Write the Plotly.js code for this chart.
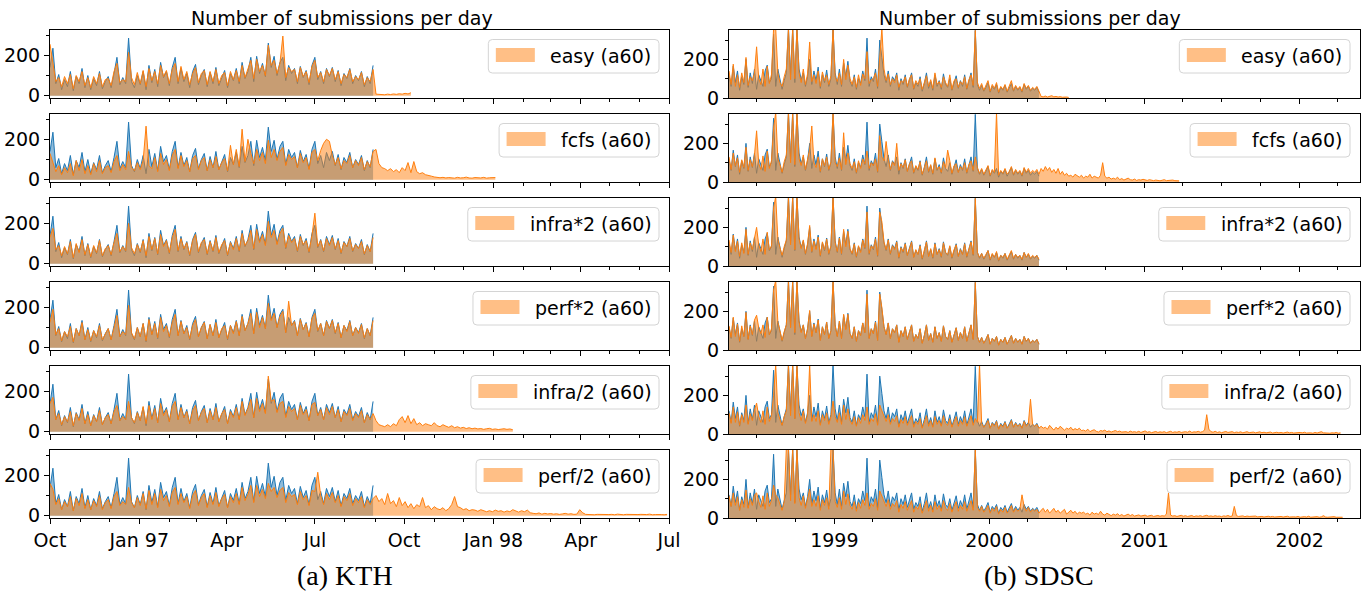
<!DOCTYPE html>
<html><head><meta charset="utf-8">
<script src="https://cdn.plot.ly/plotly-3.0.1.min.js"></script>
<style>html,body{margin:0;padding:0;background:#fff}#chart{width:1368px;height:595px}</style>
</head><body><div id="chart"></div>
<script>
// ---------------- data ----------------
const kthStart = '1996-10-01', kthStep = 3;     // days between samples
const sdscStart = '1998-04-28', sdscStep = 5;

const kthBlue = [140,235,60,105,30,80, 45,120,25,95,60,135,40, 100,30,85,50,120,35,70,
 95,40,110,190,55,90,60,285,70, 40,100,55,120,30,150,65, 130,45,165,90,120,50,140,
 190,60,135,70,110,40,120, 155,55,100,130,45,115,60, 140,50,90,125,40,110,75,
 135,60,165,85,120,190,70, 195,110,160,95,260,140,195, 100,165,190,75,150,110,135,
 60,145,90,125,55,150,190, 80,120,60,135,95,140,70, 125,50,110,85,135,60,100, 75,120,45,95,60,150];

const kthEasy = [255,150,70,90,45,95, 60,105,35,100,70,120,50, 90,40,95,60,110,45,80,
 85,50,120,160,65,80,70,215,90, 55,115,60,125,45,135,75, 120,60,150,95,125,60,130,
 160,70,145,80,120,55,110, 140,65,110,125,55,120,70, 130,60,100,115,50,120,80,
 125,70,150,90,130,175,85, 180,120,150,100,250,150,175, 110,160,295,90,140,120,130,
 70,140,95,120,65,145,175, 90,115,70,130,100,135,80, 120,60,105,90,130,70,95, 80,115,55,90,70,130,
 8,6,7,5,8,6,9,7,10,8,12,9,15];

const kthFcfs = [130,90,40,70,25,60, 35,80,20,95,45,100,30, 70,25,80,40,95,30,60,
 70,35,90,120,45,75,50,140,60, 45,85,50,95,265,70,55, 110,40,130,75,100,45,120,
 150,55,120,65,95,40,105, 120,50,95,110,45,100,60, 115,50,85,105,45,170,75,
 150,65,250,90,200,130,80, 150,95,135,80,195,110,150, 95,140,160,70,125,100,115,
 60,130,85,110,50,135,150, 95,145,180,200,190,120,75, 110,55,95,80,120,60,95, 70,110,50,90,65,140,
 150,80,60,55,45,55,40,50,35,60,45,85,35,90,40,30,35,25,20,18,14,12,10,12,9,11,10,8,12,9,10,13,9,8,11,10,9,12,8,10,9,11];

const kthInfraX2 = [130,175,70,90,40,85, 50,110,30,100,55,120,45, 95,35,90,55,115,40,75,
 90,45,105,150,60,85,65,200,80, 50,95,60,115,40,135,70, 125,50,145,85,115,55,130,
 170,65,125,75,105,45,115, 145,60,105,120,50,110,65, 130,55,95,115,45,105,70,
 125,65,150,90,115,165,75, 170,105,145,90,210,130,165, 95,150,175,80,140,105,125,
 65,135,95,115,60,140,250, 85,115,65,125,90,130,75, 115,55,105,85,125,65,95, 75,110,50,90,60,130];

const kthPerfX2 = [125,190,65,95,35,80, 55,105,30,95,60,125,40, 90,35,85,55,110,40,70,
 95,40,100,160,55,80,65,210,75, 45,100,55,120,35,140,65, 120,50,150,80,110,55,125,
 165,60,130,70,100,45,110, 140,55,100,125,45,115,60, 125,50,95,110,45,110,70,
 130,60,155,85,120,170,70, 175,100,150,95,220,135,170, 100,155,180,75,230,110,130,
 60,140,90,120,55,145,170, 85,120,60,130,95,135,75, 120,50,110,80,130,60,100, 70,115,50,95,60,135];

const kthInfraD2 = [140,170,60,90,35,75, 50,100,30,90,55,115,40, 85,30,80,50,105,35,70,
 85,40,100,130,55,75,60,150,70, 45,95,55,125,40,130,60, 115,45,140,80,110,50,125,
 150,60,120,70,100,40,105, 130,55,95,115,45,105,60, 120,50,90,110,40,100,70,
 120,60,150,80,115,160,70, 165,100,140,90,275,150,160, 95,140,150,70,125,100,115,
 60,130,85,110,55,135,145, 80,110,60,120,85,125,70, 110,50,100,80,115,55,90, 70,105,45,85,60,90,
 55,35,30,25,35,25,40,30,60,75,45,80,40,65,35,45,30,40,35,30,45,30,25,35,28,22,30,20,25,18,22,16,
 20,15,18,14,16,12,15,17,12,14,11,13,15,12,14,10];

const kthPerfD2 = [160,130,55,85,30,70, 45,95,25,85,50,110,35, 80,30,75,45,100,30,65,
 80,35,95,120,50,70,55,140,65, 40,90,50,110,35,125,55, 110,40,130,75,100,45,115,
 140,55,110,65,95,35,100, 125,50,90,110,40,100,55, 115,45,85,105,40,95,65,
 110,55,140,75,105,150,65, 150,95,130,85,160,120,140, 90,125,140,65,115,95,105,
 55,120,80,100,50,125,120, 215,100,55,110,80,115,65, 100,45,95,75,110,50,85, 65,95,40,80,55,85,
 100,70,85,55,110,60,75,45,90, 50,70,40,60,35,55,45,90,40,50,30,45,35,
 30,40,25,35,55,95,45,40,30,35,25,30,28,22,30,25,20, 25,20,28,22,25,18,24,20,30,22,18,25,20,28,15,
 12,10,14,8,12,9,11,8,10,7,9,12,8,10,7, 8,30,15,7,6,8,5,7,6,8,5,
 6,7,5,8,6,5,7,6,8,5,6,7,5,6,8,5,6,7,6,5,7];

const sdscBlue = [120,60,165,80,140,40,110,70,200,55, 130,75,150,45,120,90,60,140,170,80,
 100,330,60,150,100,45,90,130,360,120, 360,80,360,150,95,130,60,110,200,70,
 140,90,160,50,120,80,145,60,100,360, 130,70,150,60,180,110,190,85,60,120,
 45,100,75,140,90,310,60,110,85,150, 50,300,210,120,80,140,60,110,90,130,
 40,100,70,120,55,90,130,45,80,60, 110,35,75,130,50,85,40,120,60,90,
 45,125,70,55,100,40,80,115,50,90, 60,120,45,85,130,55,350,70,40,65,
 35,55,80,30,60,45,70,25,55,40, 65,30,50,75,35,60,40,55,30,70, 45,60,35,50,40,55,30];

const sdscEasy = [140,70,175,60,120,55,130,80,210,65, 110,90,130,265,100,70,150,60,165,75,
 120,360,360,130,80,60,110,150,360,95, 360,100,360,130,80,150,70,125,290,85,
 120,75,140,60,135,90,120,70,115,360, 110,85,130,70,200,95,170,100,70,110,
 55,120,65,125,100,240,75,95,100,130, 60,210,360,150,90,125,70,100,80,120,
 55,90,80,110,60,100,120,50,90,70, 100,45,85,115,60,95,50,130,70,85,
 55,110,80,60,120,45,90,100,55,85, 70,110,50,95,120,65,350,80,50,75,
 40,65,90,35,70,50,80,30,60,45, 70,35,60,90,40,65,45,60,35,75, 50,65,40,55,45,60,35,
 8,6,10,5,7,12,6,8,5,7,4,6,5,3];

const sdscFcfs = [130,65,150,85,125,50,115,75,180,60, 115,80,140,265,95,65,135,55,160,70,
 110,280,360,120,90,50,105,140,360,100, 360,90,360,120,85,140,65,120,170,290,
 100,75,130,55,120,85,130,65,105,360, 100,80,125,65,255,90,150,95,70,105,
 50,110,70,120,95,160,70,100,85,120, 55,240,130,110,210,120,65,105,85,200,
 60,95,75,115,55,95,110,50,85,65, 105,40,80,110,55,90,45,125,65,80,
 50,105,75,165,110,45,85,95,50,80, 65,100,50,90,110,60,130,75,45,70,
 40,60,85,35,65,50,360,35,60,45, 70,40,55,80,40,65,45,60,35,75, 50,70,45,60,50,65,40,
 70,55,80,60,75,50,65,45,70,40,55,35,45,30,
 35,25,40,30,25,35,20,30,25,40,20,30,25,20,35, 100,30,20,25,15,
 20,15,25,12,18,10,15,20,12,10,15,8,12,10,14, 10,8,12,9,7,10,8,6,9,12,7,8,6,10,7,5,6];

const sdscInfraX2 = [135,70,160,75,130,50,120,65,190,60, 120,85,145,200,110,75,140,60,175,85,
 105,300,360,140,95,55,100,135,360,110, 360,85,360,140,90,135,65,115,210,75,
 130,85,150,55,125,85,140,65,105,360, 120,75,145,65,190,100,180,90,65,115,
 50,105,70,135,95,280,65,105,90,140, 55,280,230,125,85,135,65,105,85,125,
 45,95,75,115,55,95,125,45,85,60, 105,40,80,125,50,90,45,115,60,85,
 50,120,70,60,105,45,85,110,50,85, 60,115,50,90,125,60,350,70,45,65,
 40,60,80,35,65,45,75,30,55,45, 65,35,55,80,40,60,45,55,35,70, 45,65,40,55,45,55,35];

const sdscPerfX2 = [125,65,170,70,135,45,125,70,195,55, 125,80,155,180,115,85,130,65,170,80,
 110,310,360,145,100,50,95,130,360,115, 360,90,360,145,90,130,60,110,205,70,
 135,90,155,50,120,80,145,60,100,360, 125,70,150,60,185,105,185,85,60,120,
 45,100,75,140,90,290,60,110,85,145, 50,290,220,120,80,140,60,110,90,130,
 40,100,70,120,55,90,130,45,80,60, 110,35,75,130,50,85,40,120,60,90,
 45,125,70,55,100,40,80,115,50,90, 60,120,45,85,130,55,350,70,40,65,
 35,55,80,30,60,45,70,25,55,40, 65,30,50,75,35,60,40,55,30,70, 45,60,35,50,40,55,30];

const sdscInfraD2 = [110,55,140,60,115,45,100,60,150,50, 105,70,125,160,90,60,120,50,140,65,
 95,200,360,110,75,45,90,120,360,95, 360,80,360,110,70,120,55,100,360,65,
 100,65,120,45,100,70,110,50,90,170, 90,60,110,50,150,75,130,70,50,90,
 40,85,55,100,70,140,50,80,65,105, 45,150,120,90,65,100,50,80,65,95,
 35,75,55,90,45,70,95,35,65,50, 80,30,60,95,40,70,35,90,50,70,
 40,95,55,45,80,35,65,90,40,70, 50,90,40,70,95,45,80,60,360,55,
 35,50,70,30,55,40,65,25,50,35, 60,30,45,70,35,55,40,50,30,65, 40,55,180,50,40,50,30,
 40,30,35,25,45,30,20,35,25,40,30,20,30,25,35,20,28,22,30,18,
 20,15,25,12,18,22,14,10,18,15,20,12,16,10,14,18,12,15,10,13,
 12,8,15,10,12,9,14,8,11,16,9,12,7,10,13,8,11,9,12,7,
 10,14,8,11,9,13,8,10,12,9,15,8,11,10,14,9,12,20,100,25,
 12,9,14,8,11,7,10,13,8,9,12,7,10,8,11,6,9,12,7,8,
 10,6,8,11,7,9,6,8,10,5,7,9,6,8,5,7,10,6,8,5,
 7,5,8,6,9,5,7,6,4,8,5,7,12,6,5,7,4,6,5,8,4,6];

const sdscPerfD2 = [115,60,130,65,110,40,95,55,145,50, 100,65,120,130,85,55,115,45,130,60,
 90,170,120,105,70,40,85,360,360,90, 360,75,360,105,65,115,50,95,150,60,
 95,60,115,40,95,65,105,45,360,360, 85,55,105,45,140,70,125,65,45,85,
 35,80,50,95,65,130,45,75,60,100, 40,140,115,85,60,95,45,75,60,90,
 30,70,50,85,40,65,90,30,60,45, 75,25,55,90,35,65,30,85,45,65,
 35,90,50,40,75,30,60,85,35,65, 45,85,35,65,90,40,360,55,35,60,
 30,45,65,25,50,35,60,20,45,30, 55,25,40,65,30,50,35,45,120,60, 35,55,30,45,35,45,25,
 40,50,30,45,25,35,50,30,40,25,35,45,20,30,40,25,35,20,30,25,
 30,20,25,15,30,20,25,18,35,20,15,25,18,12,20,15,22,12,18,10,
 15,20,12,18,10,14,16,10,12,15,9,12,14,8,11,13,9,12,10,20,
 130,15,10,12,8,11,14,9,12,8,10,13,7,11,9,12,8,10,14,9,
 11,8,12,9,10,7,11,9,13,8,10,60,12,8,9,11,7,10,8,9,
 7,10,6,9,8,5,7,9,6,8,5,7,6,8,5,6,9,5,7,6,
 5,8,4,6,7,5,9,4,6,5,7,4,6,12,5,4,6,5,7,4,5,6,4];

const seriesLabels = ['easy (a60)', 'fcfs (a60)', 'infra*2 (a60)', 'perf*2 (a60)', 'infra/2 (a60)', 'perf/2 (a60)'];
const kthOrange = [kthEasy, kthFcfs, kthInfraX2, kthPerfX2, kthInfraD2, kthPerfD2];
const sdscOrange = [sdscEasy, sdscFcfs, sdscInfraX2, sdscPerfX2, sdscInfraD2, sdscPerfD2];

const kthTickVals = ['1996-10-01','1997-01-01','1997-04-01','1997-07-01','1997-10-01','1998-01-01','1998-04-01','1998-07-01'];
const kthTickText = ['Oct','Jan 97','Apr','Jul','Oct','Jan 98','Apr','Jul'];
const sdscTickVals = ['1999-01-01','2000-01-01','2001-01-01','2002-01-01'];
const sdscTickText = ['1999','2000','2001','2002'];
const yTickVals = [0, 200];

const panelTitle = 'Number of submissions per day';
const captions = ['(a) KTH', '(b) SDSC'];

// ---------------- layout helpers ----------------
const W = 1368, H = 595;
const colX = [[50, 669], [729, 1360]];
const PANEL_H = 68, ROW_STEP = 84, TOP0 = 30;
const xRanges = [['1996-10-01', '1998-07-01'], ['1998-04-28', '2002-05-23']];
const yRanges = [[-11, 325], [0, 352]];
const minorX = [{dtick: 'M1', tick0: '1996-10-01'}, {dtick: 'M3', tick0: '1998-01-01'}];
const FONT = 'DejaVu Sans';
const FS = 19;
const BLUE = '#1f77b4', ORANGE = '#ff7f0e';

function dates(start, step, n) {
  const t0 = Date.parse(start + 'T00:00:00Z');
  const out = [];
  for (let i = 0; i < n; i++) out.push(new Date(t0 + i * step * 86400000).toISOString().slice(0, 10));
  return out;
}
const px = v => v / W;
const py = v => 1 - v / H;

const ctx = document.createElement('canvas').getContext('2d');
ctx.font = FS + 'px "' + FONT + '"';

const traces = [];
const layout = {
  width: W, height: H, margin: {l: 0, r: 0, t: 0, b: 0},
  paper_bgcolor: '#fff', plot_bgcolor: '#fff', showlegend: false,
  shapes: [], annotations: []
};

const cols = [
  {start: kthStart, step: kthStep, blue: kthBlue, orange: kthOrange, tv: kthTickVals, tt: kthTickText},
  {start: sdscStart, step: sdscStep, blue: sdscBlue, orange: sdscOrange, tv: sdscTickVals, tt: sdscTickText}
];

cols.forEach((col, c) => {
  const [xl, xr] = colX[c];
  for (let r = 0; r < 6; r++) {
    const p = c * 6 + r + 1;
    const s = p === 1 ? '' : String(p);
    const top = TOP0 + ROW_STEP * r, bot = top + PANEL_H;
    const blueY = col.blue, orY = col.orange[r];
    traces.push({
      type: 'scatter', mode: 'lines', x: dates(col.start, col.step, blueY.length), y: blueY,
      fill: 'tozeroy', fillcolor: 'rgba(31,119,180,0.5)', line: {color: BLUE, width: 1},
      xaxis: 'x' + s, yaxis: 'y' + s, hoverinfo: 'skip', showlegend: false
    });
    traces.push({
      type: 'scatter', mode: 'lines', x: dates(col.start, col.step, orY.length), y: orY,
      fill: 'tozeroy', fillcolor: 'rgba(255,127,14,0.5)', line: {color: ORANGE, width: 1},
      xaxis: 'x' + s, yaxis: 'y' + s, hoverinfo: 'skip', showlegend: false
    });
    layout['xaxis' + s] = {
      domain: [px(xl), px(xr)], anchor: 'y' + s, type: 'date', range: xRanges[c],
      tickmode: 'array', tickvals: col.tv, ticktext: col.tt, showticklabels: r === 5,
      ticks: 'outside', ticklen: 5, tickwidth: 1, tickcolor: '#000',
      minor: {ticks: 'outside', ticklen: 3, tickwidth: 1, tickcolor: '#000', dtick: minorX[c].dtick, tick0: minorX[c].tick0, showgrid: false},
      showline: true, mirror: true, linecolor: '#000', linewidth: 1,
      showgrid: false, zeroline: false, fixedrange: true,
      tickfont: {family: FONT, size: FS, color: '#000'}
    };
    layout['yaxis' + s] = {
      domain: [py(bot), py(top)], anchor: 'x' + s, range: yRanges[c],
      tickmode: 'array', tickvals: yTickVals,
      ticks: 'outside', ticklen: 5, tickwidth: 1, tickcolor: '#000',
      minor: {ticks: 'outside', ticklen: 3, tickwidth: 1, tickcolor: '#000', tickvals: [100, 300], showgrid: false},
      showline: true, mirror: true, linecolor: '#000', linewidth: 1,
      showgrid: false, zeroline: false, fixedrange: true,
      tickfont: {family: FONT, size: FS, color: '#000'}
    };
    // legend (drawn manually, matplotlib style)
    const label = seriesLabels[r];
    const tw = ctx.measureText(label).width;
    const boxR = xr - 10, textR = boxR - 7.5, textL = textR - tw;
    const patchR = textL - 15.5, patchL = patchR - 39, boxL = patchL - 7.5;
    const boxT = top + 9.5, boxB = top + 43, rr = 4;
    const path = 'M' + px(boxL + rr) + ',' + py(boxT) + ' L' + px(boxR - rr) + ',' + py(boxT) +
      ' Q' + px(boxR) + ',' + py(boxT) + ' ' + px(boxR) + ',' + py(boxT + rr) +
      ' L' + px(boxR) + ',' + py(boxB - rr) +
      ' Q' + px(boxR) + ',' + py(boxB) + ' ' + px(boxR - rr) + ',' + py(boxB) +
      ' L' + px(boxL + rr) + ',' + py(boxB) +
      ' Q' + px(boxL) + ',' + py(boxB) + ' ' + px(boxL) + ',' + py(boxB - rr) +
      ' L' + px(boxL) + ',' + py(boxT + rr) +
      ' Q' + px(boxL) + ',' + py(boxT) + ' ' + px(boxL + rr) + ',' + py(boxT) + ' Z';
    layout.shapes.push({type: 'path', xref: 'paper', yref: 'paper', path: path,
      line: {color: '#d4d4d4', width: 1}, fillcolor: 'rgba(255,255,255,0.8)', layer: 'above'});
    layout.shapes.push({type: 'rect', xref: 'paper', yref: 'paper',
      x0: px(patchL), x1: px(patchR), y0: py(top + 32), y1: py(top + 18),
      line: {width: 0}, fillcolor: 'rgba(255,127,14,0.5)', layer: 'above'});
    layout.annotations.push({xref: 'paper', yref: 'paper', x: px(textL - 2), y: py(top + 25.5),
      xanchor: 'left', yanchor: 'middle', showarrow: false, text: label,
      font: {family: FONT, size: FS, color: '#000'}});
  }
});

// column titles and captions
[342, 1030].forEach(cx => layout.annotations.push({xref: 'paper', yref: 'paper', x: px(cx), y: py(18),
  xanchor: 'center', yanchor: 'middle', showarrow: false, text: panelTitle,
  font: {family: FONT, size: FS, color: '#000'}}));
[345, 1039].forEach((cx, i) => layout.annotations.push({xref: 'paper', yref: 'paper', x: px(cx), y: py(575),
  xanchor: 'center', yanchor: 'middle', showarrow: false, text: captions[i],
  font: {family: 'Liberation Serif', size: 28, color: '#000'}}));

Plotly.newPlot('chart', traces, layout, {displayModeBar: false, staticPlot: true});
</script>
</body></html>
